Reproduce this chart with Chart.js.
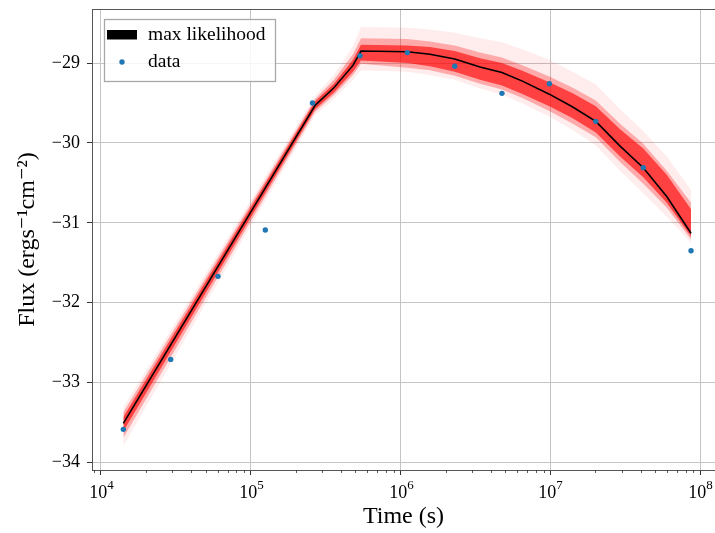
<!DOCTYPE html>
<html>
<head>
<meta charset="utf-8">
<script src="https://cdn.jsdelivr.net/npm/chart.js@4.4.0/dist/chart.umd.min.js"></script>
<style>
  html, body { margin: 0; padding: 0; background: #fff; overflow: hidden; }
</style>
</head>
<body>
<canvas id="chart-flux" width="719" height="533"></canvas>
<script>
// Observed points (time in s, log flux)
const dataTimes = [1.41e4, 2.92e4, 6.04e4, 1.25e5, 2.58e5, 5.36e5, 1.11e6, 2.30e6, 4.75e6, 9.85e6, 2.01e7, 4.17e7, 8.69e7];
const dataFlux = [-33.585, -32.71, -31.67, -31.09, -29.50, -28.91, -28.87, -29.04, -29.38, -29.26, -29.73, -30.31, -31.35];

// Max likelihood curve
const modelTimes = [1.41e4, 2.69e5, 3.59e5, 4.81e5, 5.44e5, 1.11e6, 1.57e6, 2.30e6, 3.39e6, 4.75e6, 6.56e6, 9.84e6, 1.41e7, 2.01e7, 2.92e7, 4.17e7, 5.98e7, 8.69e7];
const modelFlux = [-33.51, -29.53, -29.31, -29.03, -28.85, -28.86, -28.89, -28.95, -29.05, -29.12, -29.23, -29.39, -29.55, -29.73, -30.04, -30.31, -30.67, -31.13];

// Spread of the posterior sample lines: faint edge, middle and dense core
const outerHigh = [-33.31, -29.41, -29.15, -28.79, -28.55, -28.56, -28.58, -28.62, -28.69, -28.74, -28.83, -28.96, -29.11, -29.27, -29.58, -29.85, -30.17, -30.59];
const outerLow = [-33.79, -29.65, -29.45, -29.21, -29.09, -29.11, -29.15, -29.21, -29.32, -29.39, -29.51, -29.67, -29.84, -30.03, -30.35, -30.63, -30.92, -31.25];
const midHigh = [-33.37, -29.45, -29.21, -28.89, -28.69, -28.70, -28.73, -28.78, -28.87, -28.93, -29.03, -29.17, -29.31, -29.47, -29.76, -30.01, -30.35, -30.75];
const midLow = [-33.69, -29.61, -29.40, -29.15, -29.01, -29.06, -29.09, -29.16, -29.26, -29.33, -29.44, -29.60, -29.76, -29.93, -30.24, -30.51, -30.81, -31.21];
const coreHigh = [-33.43, -29.48, -29.26, -28.96, -28.77, -28.78, -28.80, -28.85, -28.94, -29.00, -29.10, -29.24, -29.38, -29.54, -29.83, -30.07, -30.40, -30.83];
const coreLow = [-33.61, -29.58, -29.37, -29.11, -28.97, -29.00, -29.04, -29.11, -29.21, -29.28, -29.39, -29.54, -29.69, -29.87, -30.17, -30.43, -30.75, -31.17];

const yTicks = [-34, -33, -32, -31, -30, -29];

const serif = '"Liberation Serif", "DejaVu Serif", serif';

function pairs(xs, ys) {
  return xs.map((x, i) => ({ x: x, y: ys[i] }));
}

function isPow10(v) {
  const e = Math.log10(v);
  return Math.abs(e - Math.round(e)) < 1e-6;
}

function isIntegerMultiple(v) {
  const e = Math.floor(Math.log10(v) + 1e-9);
  const s = v / Math.pow(10, e);
  return Math.abs(s - Math.round(s)) < 1e-6;
}

// Filled band between two edges, drawn under the curve
function band(label, high, low, color, order) {
  return [
    {
      label: label + ' high',
      data: pairs(modelTimes, high),
      borderWidth: 0,
      borderColor: 'rgba(0,0,0,0)',
      pointRadius: 0,
      fill: '+1',
      backgroundColor: color,
      order: order
    },
    {
      label: label + ' low',
      data: pairs(modelTimes, low),
      borderWidth: 0,
      borderColor: 'rgba(0,0,0,0)',
      pointRadius: 0,
      fill: false,
      order: order
    }
  ];
}

// Top spine, minor ticks, 10^n labels and the legend inside the axes
const extras = {
  id: 'extras',
  afterDraw(chart) {
    const { ctx, chartArea, scales } = chart;
    ctx.save();

    ctx.strokeStyle = '#555';
    ctx.lineWidth = 1;
    ctx.beginPath();
    ctx.moveTo(chartArea.left, chartArea.top + 0.5);
    ctx.lineTo(chartArea.right, chartArea.top + 0.5);
    ctx.stroke();

    ctx.strokeStyle = '#333';
    ctx.lineWidth = 0.8;
    scales.x.ticks.forEach(t => {
      const px = Math.round(scales.x.getPixelForValue(t.value)) + 0.5;
      if (isPow10(t.value)) {
        const exp = String(Math.round(Math.log10(t.value)));
        ctx.fillStyle = '#000';
        ctx.textBaseline = 'alphabetic';
        ctx.textAlign = 'left';
        ctx.font = '18px ' + serif;
        const w1 = ctx.measureText('10').width;
        ctx.font = '13px ' + serif;
        const w2 = ctx.measureText(exp).width;
        const x0 = px - (w1 + w2) / 2;
        ctx.font = '18px ' + serif;
        ctx.fillText('10', x0, chartArea.bottom + 28);
        ctx.font = '13px ' + serif;
        ctx.fillText(exp, x0 + w1, chartArea.bottom + 19);
        return;
      }
      ctx.beginPath();
      ctx.moveTo(px, chartArea.bottom);
      ctx.lineTo(px, chartArea.bottom + 3);
      ctx.stroke();
    });

    const lx = chartArea.left + 12;
    const ly = chartArea.top + 10;
    ctx.fillStyle = 'rgba(255,255,255,0.85)';
    ctx.fillRect(lx, ly, 171, 62);
    ctx.strokeStyle = '#a8a8a8';
    ctx.lineWidth = 1.3;
    ctx.strokeRect(lx + 0.5, ly + 0.5, 171, 62);

    const ml = chart.data.datasets[1];
    const pts = chart.data.datasets[0];
    ctx.fillStyle = ml.borderColor;
    ctx.fillRect(lx + 3, ly + 11, 30, 9.5);
    ctx.fillStyle = pts.backgroundColor;
    ctx.beginPath();
    ctx.arc(lx + 18, ly + 43, 2.7, 0, Math.PI * 2);
    ctx.fill();

    ctx.fillStyle = '#000';
    ctx.font = '19.5px ' + serif;
    ctx.textBaseline = 'middle';
    ctx.textAlign = 'left';
    ctx.fillText(ml.label, lx + 44, ly + 16);
    ctx.fillText(pts.label, lx + 44, ly + 43);

    ctx.restore();
  }
};

function crearGrafico() {
  const ctx = document.getElementById('chart-flux');

  const datasets = [
    {
      label: 'data',
      data: pairs(dataTimes, dataFlux),
      showLine: false,
      pointRadius: 2.7,
      pointBorderWidth: 0,
      backgroundColor: '#1f77b4',
      borderColor: '#1f77b4',
      order: 0
    },
    {
      label: 'max likelihood',
      data: pairs(modelTimes, modelFlux),
      borderColor: '#000000',
      borderWidth: 1.6,
      pointRadius: 0,
      tension: 0,
      order: 1
    }
  ]
    .concat(band('core', coreHigh, coreLow, 'rgba(255,0,0,0.62)', 2))
    .concat(band('mid', midHigh, midLow, 'rgba(255,20,20,0.3)', 3))
    .concat(band('edge', outerHigh, outerLow, 'rgba(255,40,40,0.09)', 4));

  new Chart(ctx, {
    type: 'line',
    data: { datasets: datasets },
    options: {
      responsive: false,
      animation: false,
      devicePixelRatio: 1,
      layout: { padding: { top: 9, right: 0, left: 0, bottom: 0 } },
      plugins: {
        legend: { display: false },
        tooltip: { enabled: false }
      },
      scales: {
        x: {
          type: 'logarithmic',
          min: 8.71e3,
          max: 1.256e8,
          afterBuildTicks: scale => {
            scale.ticks = scale.ticks.filter(t => isIntegerMultiple(t.value));
          },
          afterFit: scale => {
            scale.height = 63;
            scale.paddingLeft = 0;
            scale.paddingRight = 0;
          },
          ticks: {
            autoSkip: false,
            maxRotation: 0,
            callback: () => ''
          },
          grid: {
            color: c => (c.tick && isPow10(c.tick.value)) ? '#c4c4c4' : 'rgba(0,0,0,0)',
            tickColor: c => (c.tick && isPow10(c.tick.value)) ? '#333' : 'rgba(0,0,0,0)',
            tickLength: 5,
            lineWidth: 1
          },
          border: { color: '#555', width: 1 },
          title: {
            display: true,
            text: 'Time (s)',
            color: '#000',
            font: { family: serif, size: 24 },
            padding: { top: 0, bottom: 1.5 }
          }
        },
        y: {
          min: -34.094,
          max: -28.324,
          afterBuildTicks: scale => {
            scale.ticks = yTicks.map(v => ({ value: v }));
          },
          afterFit: scale => {
            scale.width = 92;
            scale.paddingTop = 0;
            scale.paddingBottom = 0;
          },
          ticks: {
            color: '#000',
            padding: 7,
            font: { family: serif, size: 18 },
            callback: v => String(v).replace('-', '−')
          },
          grid: {
            color: '#c4c4c4',
            tickColor: '#333',
            tickLength: 5,
            lineWidth: 1
          },
          border: { color: '#555', width: 1 },
          title: {
            display: true,
            text: 'Flux (ergs⁻¹cm⁻²)',
            color: '#000',
            font: { family: serif, size: 24 },
            padding: { top: 13.5, bottom: 0 }
          }
        }
      }
    },
    plugins: [extras]
  });
}

document.addEventListener('DOMContentLoaded', () => {
  crearGrafico();
});
</script>
</body>
</html>
